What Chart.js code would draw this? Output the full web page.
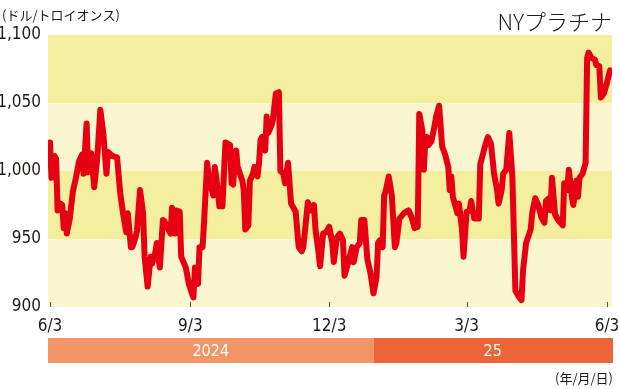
<!DOCTYPE html>
<html>
<head>
<meta charset="utf-8">
<script src="https://cdn.jsdelivr.net/npm/chart.js@4.4.1/dist/chart.umd.min.js"></script>
<style>
  html, body { margin: 0; padding: 0; background: #ffffff; }
  #wrap { position: relative; width: 620px; height: 389px; }
  canvas { display: block; }
</style>
</head>
<body>
<div id="wrap"><canvas id="c" width="620" height="389"></canvas></div>
<script>
// ---- data (x = days after 2024-06-03) ----
const startDate = '2024-06-03';
const dayOffsets = [0,1,3,4,5,7,8,9,10,11,13,15,17,19,21,22,24,25,27,29,31,33,35,37,38,41,44,46,48,50,51,53,54,56,57,59,61,62,64,66,67,69,70,72,74,75,78,79,80,82,83,85,86,89,91,93,94,95,97,98,100,101,103,104,107,108,110,111,113,114,115,118,119,120,122,123,126,127,128,130,131,133,134,136,137,138,139,141,142,143,145,146,148,150,151,153,154,156,157,158,161,162,163,165,166,168,169,171,173,174,176,177,179,181,183,185,186,188,190,192,193,196,198,199,201,203,204,206,208,210,212,214,215,216,218,219,220,222,224,226,227,229,232,235,237,239,241,242,244,245,246,247,248,250,252,253,255,257,259,261,262,263,264,267,268,270,271,273,275,276,278,281,282,285,287,289,291,293,294,296,297,299,301,303,305,307,309,310,312,315,316,318,320,322,324,325,327,328,329,331,333,336,337,339,340,342,343,345,346,347,349,351,352,353,355,357,358,360,361,363,365,367];
const prices = [1021,995,1011,1009,971,976,975,958,969,954,965,985,995,1007,1012,998,1035,999,1013,988,1010,1045,1027,998,1014,1011,1010,984,968,955,969,944,944,951,956,986,969,937,915,937,932,940,947,929,964,963,956,954,973,954,971,970,937,929,917,910,907,929,917,944,944,963,1006,996,982,1003,986,974,974,998,1021,1019,991,990,1015,1003,993,986,957,960,993,998,1003,996,1006,1023,1025,1015,1040,1028,1033,1037,1057,1058,1000,998,991,1006,991,976,970,957,944,941,944,966,977,971,975,957,940,930,954,955,959,947,933,951,954,949,923,935,944,933,944,947,964,964,935,925,910,922,947,949,944,982,985,996,982,944,947,965,969,971,966,958,959,1042,1030,1001,1023,1025,1019,1022,1033,1040,1048,1018,1012,1003,986,996,981,969,976,957,937,970,971,978,965,965,1005,1018,1025,1020,998,986,976,986,998,1001,1028,996,912,908,905,927,947,957,969,980,975,966,962,978,980,971,995,968,964,960,991,986,1001,981,975,993,981,995,998,1006,1083,1087,1083,1082,1078,1077,1054,1057,1065,1074];
const xTickDays = [0, 92, 183, 273, 365];
const xTickLabels = ['6/3', '9/3', '12/3', '3/3', '6/3'];
const yTickValues = [900, 950, 1000, 1050, 1100];
const yearLabels = ['2024', '25'];
const yearBoundaryDay = 212; // 2025-01-01
const unitLabel = '(ドル/トロイオンス)';
const titleText = 'NYプラチナ';
const dateUnitLabel = '(年/月/日)';

const NUM_FONT = "'Liberation Sans Narrow', 'DejaVu Sans Condensed', 'Roboto', sans-serif";
const JP_FONT = "'Noto Sans CJK JP', 'Noto Sans', sans-serif";

const points = dayOffsets.map((d, i) => ({ x: d, y: prices[i] }));

const bandsPlugin = {
  id: 'bands',
  beforeDatasetsDraw(chart) {
    const { ctx, chartArea: a, scales: { y } } = chart;
    const bands = [[1050, 1100, '#f3ef9f'], [1000, 1050, '#f9f6cf'], [950, 1000, '#f3ef9f'], [900, 950, '#f9f6cf']];
    ctx.save();
    bands.forEach(([lo, hi, col]) => {
      const t = y.getPixelForValue(hi), b = y.getPixelForValue(lo);
      ctx.fillStyle = col;
      ctx.fillRect(a.left, t, a.right - a.left, b - t);
    });
    ctx.restore();
  },
  afterDraw(chart) {
    const { ctx, chartArea: a, scales: { x } } = chart;
    ctx.save();
    ctx.strokeStyle = '#555';
    ctx.lineWidth = 1;
    xTickDays.forEach(d => {
      const px = Math.round(x.getPixelForValue(d)) + 0.5;
      ctx.beginPath();
      ctx.moveTo(px, a.bottom - 5);
      ctx.lineTo(px, a.bottom);
      ctx.stroke();
    });
    const bx = x.getPixelForValue(yearBoundaryDay);
    const top = 338, h = 25;
    ctx.fillStyle = '#f29668';
    ctx.fillRect(a.left, top, bx - a.left, h);
    ctx.fillStyle = '#eb6539';
    ctx.fillRect(bx, top, a.right + 1 - bx, h);
    ctx.fillStyle = '#ffffff';
    ctx.font = '16px ' + NUM_FONT;
    ctx.textAlign = 'center';
    ctx.textBaseline = 'middle';
    ctx.fillText(yearLabels[0], (a.left + bx) / 2, top + h / 2 + 1);
    ctx.fillText(yearLabels[1], (bx + a.right) / 2, top + h / 2 + 1);
    ctx.fillStyle = '#231815';
    ctx.textBaseline = 'alphabetic';
    ctx.textAlign = 'left';
    ctx.font = '13px ' + JP_FONT;
    ctx.fillText(unitLabel, 2, 20);
    ctx.textAlign = 'right';
    ctx.font = '300 22px ' + JP_FONT;
    ctx.fillText(titleText, 612, 30);
    ctx.font = '13px ' + JP_FONT;
    ctx.fillText(dateUnitLabel, 613, 383);
    ctx.restore();
  }
};

new Chart(document.getElementById('c'), {
  type: 'line',
  data: {
    datasets: [{
      data: points,
      borderColor: '#e60012',
      borderWidth: 6,
      pointRadius: 0,
      tension: 0,
      borderJoinStyle: 'round',
      borderCapStyle: 'round',
      fill: false
    }]
  },
  options: {
    responsive: false,
    animation: false,
    devicePixelRatio: 1,
    layout: { padding: { top: 35, right: 8, bottom: 52, left: 0 } },
    plugins: { legend: { display: false }, tooltip: { enabled: false }, title: { display: false } },
    scales: {
      x: {
        type: 'linear',
        min: -1.3,
        max: 368.3,
        afterBuildTicks(scale) { scale.ticks = xTickDays.map(v => ({ value: v })); },
        afterFit(scale) { scale.height = 30; scale.paddingLeft = 0; scale.paddingRight = 0; },
        grid: { display: false, drawTicks: false },
        border: { display: false },
        ticks: {
          autoSkip: false,
          maxRotation: 0,
          padding: 9,
          color: '#231815',
          font: { family: NUM_FONT, size: 17 },
          callback: (v, i) => xTickLabels[i]
        }
      },
      y: {
        min: 900,
        max: 1100,
        afterBuildTicks(scale) { scale.ticks = yTickValues.map(v => ({ value: v })); },
        afterFit(scale) { scale.width = 48; scale.paddingTop = 0; scale.paddingBottom = 0; },
        grid: { display: false, drawTicks: false },
        border: { display: false },
        ticks: {
          padding: 7,
          color: '#231815',
          font: { family: NUM_FONT, size: 17 },
          callback: v => v.toLocaleString('en-US')
        }
      }
    }
  },
  plugins: [bandsPlugin]
});
</script>
</body>
</html>
